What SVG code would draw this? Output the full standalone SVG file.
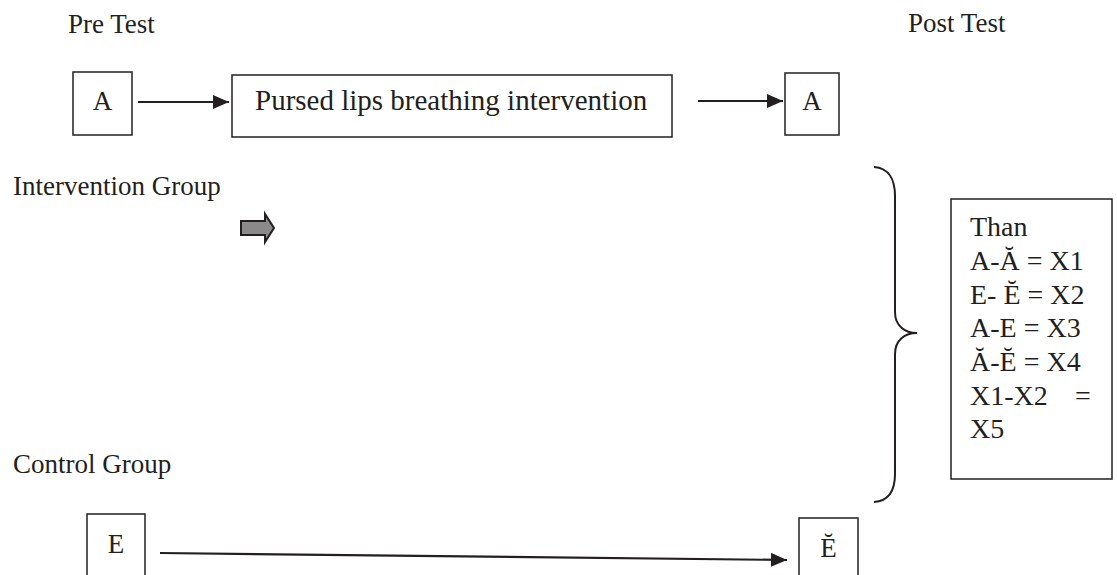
<svg xmlns="http://www.w3.org/2000/svg" width="1117" height="575" viewBox="0 0 1117 575">
<style>
text{font-family:"Liberation Serif","Times New Roman",serif;fill:#231f20;}
.lbl{font-size:27px;}
.box{fill:#fff;stroke:#231f20;stroke-width:1.5;}
.con{stroke:#231f20;stroke-width:2.2;fill:none;}
</style>
<defs>
<marker id="ah" markerUnits="userSpaceOnUse" markerWidth="18" markerHeight="14" refX="16" refY="7" orient="auto">
<path d="M0,0 L16,7 L0,14 Z" fill="#231f20"/>
</marker>
</defs>
<rect width="1117" height="575" fill="#fff"/>
<g id="labels">
<text class="lbl" x="68" y="33">Pre Test</text>
<text class="lbl" x="908" y="32">Post Test</text>
<text class="lbl" x="13" y="195">Intervention Group</text>
<text class="lbl" x="13" y="473">Control Group</text>
</g>
<g id="node-a-pre">
<rect class="box" x="73" y="72" width="59" height="63"/>
<text class="lbl" x="102.5" y="110" text-anchor="middle">A</text>
</g>
<g id="node-intervention">
<rect class="box" x="232" y="75" width="440" height="62"/>
<text x="255" y="110" font-size="29">Pursed lips breathing intervention</text>
</g>
<g id="node-a-post">
<rect class="box" x="785" y="73" width="54" height="62"/>
<text class="lbl" x="812" y="110" text-anchor="middle">A</text>
</g>
<g id="node-e-pre">
<rect class="box" x="87" y="514" width="58" height="70"/>
<text class="lbl" x="116" y="553" text-anchor="middle">E</text>
</g>
<g id="node-e-post">
<rect class="box" x="799" y="518" width="59" height="70"/>
<text class="lbl" x="828.5" y="557" text-anchor="middle">Ĕ</text>
</g>
<g id="node-result">
<rect class="box" x="951" y="199" width="161" height="280"/>
<text font-size="28">
<tspan x="970" y="236">Than</tspan>
<tspan x="970" y="270">A-Ă = X1</tspan>
<tspan x="970" y="304">E- Ĕ = X2</tspan>
<tspan x="970" y="337">A-E = X3</tspan>
<tspan x="970" y="371">Ă-Ĕ = X4</tspan>
<tspan x="970" y="405">X1-X2</tspan><tspan x="1075" y="405">=</tspan>
<tspan x="970" y="438">X5</tspan>
</text>
</g>
<g id="brace">
<path d="M874,167 C889,168 895,180 895,196 L895,312 C895,326 905,333 917,333 C905,333 895,340 895,354 L895,474 C895,490 889,501 874,502" fill="none" stroke="#231f20" stroke-width="2"/>
</g>
<g id="gray-arrow">
<path d="M241,221 L265,221 L265,214 L274,228 L265,242 L265,235 L241,235 Z" fill="#8a8a8a" stroke="#231f20" stroke-width="2" stroke-linejoin="miter"/>
</g>
<g id="connectors">
<line class="con" x1="138" y1="102" x2="229" y2="102" marker-end="url(#ah)"/>
<line class="con" x1="698" y1="101" x2="783" y2="101" marker-end="url(#ah)"/>
<line class="con" x1="160" y1="553" x2="787" y2="560" marker-end="url(#ah)"/>
</g>
</svg>
